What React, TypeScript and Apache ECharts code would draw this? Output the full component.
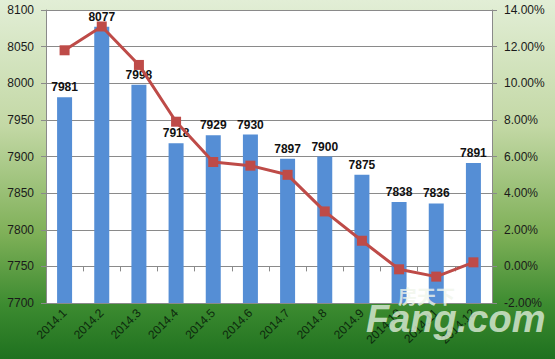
import React, { useEffect, useRef } from "react";
import * as echarts from "echarts";

const categories = ["2014.1","2014.2","2014.3","2014.4","2014.5","2014.6","2014.7","2014.8","2014.9","2014.10","2014.11","2014.12"];
const prices = [7981, 8077, 7998, 7918, 7929, 7930, 7897, 7900, 7875, 7838, 7836, 7891];
const growth = [11.8, 13.1, 11.0, 7.9, 5.7, 5.5, 5.0, 3.0, 1.4, -0.16, -0.56, 0.22];

export default function App() {
  const ref = useRef<HTMLDivElement>(null);
  useEffect(() => {
    if (!ref.current) return;
    const chart = echarts.init(ref.current, null, { renderer: "svg" });
    const font = "'Liberation Sans', Arial, sans-serif";
    chart.setOption({
      animation: false,
      backgroundColor: {
        type: "linear", x: 0, y: 0, x2: 0, y2: 1,
        colorStops: [
          { offset: 0, color: "#e2eed6" },
          { offset: 0.35, color: "#c3d8a5" },
          { offset: 0.65, color: "#7fb058" },
          { offset: 0.85, color: "#3c8b30" },
          { offset: 1, color: "#1f711f" },
        ],
      },
      grid: { left: 46, right: 63, top: 10, bottom: 56, show: true, backgroundColor: "#ffffff", borderWidth: 0 },
      xAxis: {
        type: "category",
        data: categories,
        axisLine: { lineStyle: { color: "#8a8a8a" } },
        axisTick: { show: true, lineStyle: { color: "#8a8a8a" } },
        axisLabel: { rotate: 45, color: "#0d2a0d", fontSize: 12, fontFamily: font, interval: 0, margin: 8 },
      },
      yAxis: [
        {
          type: "value", min: 7700, max: 8100, interval: 50,
          axisLine: { show: true, lineStyle: { color: "#8a8a8a" } },
          axisTick: { show: true, lineStyle: { color: "#8a8a8a" } },
          splitLine: { lineStyle: { color: "#8a8a8a", width: 1 } },
          axisLabel: { color: "#1a1a1a", fontSize: 12, fontFamily: font, margin: 12, formatter: (v: number) => String(v) },
        },
        {
          type: "value", min: -2, max: 14, interval: 2,
          axisLine: { show: true, lineStyle: { color: "#8a8a8a" } },
          axisTick: { show: true, lineStyle: { color: "#8a8a8a" } },
          splitLine: { show: false },
          axisLabel: { color: "#1a1a1a", fontSize: 12, fontFamily: font, margin: 12, formatter: (v: number) => v.toFixed(2) + "%" },
        },
      ],
      series: [
        {
          type: "bar", data: prices, barWidth: 15, yAxisIndex: 0,
          itemStyle: { color: "#558ed5" },
          label: { show: true, position: "top", distance: 4, color: "#111", fontWeight: "bold", fontSize: 12, fontFamily: font },
        },
        {
          type: "line", data: growth, yAxisIndex: 1,
          symbol: "rect", symbolSize: 10,
          lineStyle: { color: "#be4b48", width: 3 },
          itemStyle: { color: "#be4b48" },
        },
      ],
      graphic: [
        { type: "text", left: 398, top: 286, style: { text: "房天下", fill: "rgba(240,245,235,0.8)", font: "bold 19px 'Noto Sans CJK SC', sans-serif" }, z: 100 },
        { type: "text", left: 366, top: 300, style: { text: "Fang.com", fill: "rgba(225,238,220,0.8)", font: "italic bold 38px 'Liberation Sans', Arial, sans-serif" }, z: 100 },
      ],
    });
    return () => chart.dispose();
  }, []);
  return <div ref={ref} style={{ width: 555, height: 359, position: "absolute", left: 0, top: 0 }} />;
}
